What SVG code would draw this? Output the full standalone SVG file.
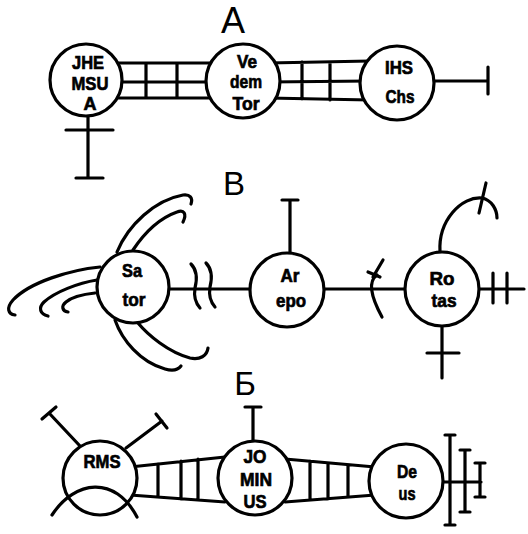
<svg xmlns="http://www.w3.org/2000/svg" width="528" height="534" viewBox="0 0 528 534">
<style>
.ln{fill:none;stroke:#000;stroke-width:3.2;stroke-linecap:round;stroke-linejoin:round}
.nd{fill:#fff;stroke:#000;stroke-width:3.2}
.t{font-family:"Liberation Sans",Arial,sans-serif;font-weight:bold;font-size:19px;text-anchor:middle;fill:#000;stroke:#000;stroke-width:0.7}
.h{font-family:"Liberation Sans",Arial,sans-serif;font-size:33px;text-anchor:middle;fill:#000}
</style>
<rect width="528" height="534" fill="#fff"/>
<g id="labels">
<text class="h" x="233" y="33" style="font-size:36px">А</text>
<text class="h" x="234" y="195">В</text>
<text class="h" x="245" y="395">Б</text>
</g>
<g id="connectors" class="ln">
<path d="M110 63H215M110 82H215M110 98H215M146 63V98M177 63V98"/>
<path d="M268 63L370 61M268 82L370 81M268 98L370 100M302 62V99M330 62V100"/>
<path d="M430 81H488M488 67V94"/>
<path d="M88 114V178M66 130H113M76 178H103"/>
<path d="M150 289H524"/>
<path d="M191 264Q199 272 195 288Q193 300 200 308"/>
<path d="M206 263Q214 271 210 287Q208 299 215 307"/>
<path d="M117 252C128 225 155 200 183 195C190 194 193 198 191 204"/>
<path d="M133 250C145 232 160 218 177 212C184 209 187 214 183 222"/>
<path d="M100 267C70 270 30 282 13 300C6 308 8 314 15 315"/>
<path d="M97 280C78 283 55 292 44 302C38 308 40 314 48 316"/>
<path d="M95 293C85 294 72 297 66 302C61 306 62 311 68 312"/>
<path d="M115 320C122 340 140 362 165 369C172 371 178 370 181 366"/>
<path d="M138 323C148 335 168 352 190 358C200 360 207 356 208 348"/>
<path d="M290 253V200M282 200H298"/>
<path d="M377 275Q364 284 382 317"/>
<path d="M383 260L373 277M368 272L380 277"/>
<path d="M493 273V303M507 273V303"/>
<path d="M442 325V378M427 353H459"/>
<path d="M440 252C438 220 462 196 482 198C492 200 497 210 497 218"/>
<path d="M486 183L479 213"/>
<path d="M130 467L225 457M130 495L225 502M158 464V497M181 461V499M198 459V500"/>
<path d="M285 459L375 467M285 502L375 495M310 461V500M328 463V499M348 465V497"/>
<path d="M253 442V407M245 407H261"/>
<path d="M80 446L49 413M42 419L56 407"/>
<path d="M126 448L162 421M156 414L167 428"/>
<path d="M441 482H481M450 435V525M445 435H455M445 525H455M465 450V512M460 450H470M460 512H470M480 463V497M475 463H485M475 497H485"/>
</g>
<g id="n-jhe"><circle class="nd" cx="86" cy="80" r="36"/>
<text class="t" x="88" y="69" textLength="32" lengthAdjust="spacingAndGlyphs">JHE</text>
<text class="t" x="90" y="90" textLength="37" lengthAdjust="spacingAndGlyphs">MSU</text>
<text class="t" x="90" y="110" textLength="13" lengthAdjust="spacingAndGlyphs">A</text></g>
<g id="n-vedem"><circle class="nd" cx="243" cy="81" r="37"/>
<text class="t" x="247" y="68" textLength="20" lengthAdjust="spacingAndGlyphs">Ve</text>
<text class="t" x="246" y="88" textLength="32" lengthAdjust="spacingAndGlyphs">dem</text>
<text class="t" x="246" y="110" textLength="27" lengthAdjust="spacingAndGlyphs">Tor</text></g>
<g id="n-ihs"><circle class="nd" cx="397" cy="83" r="37"/>
<text class="t" x="399" y="74" textLength="28" lengthAdjust="spacingAndGlyphs">IHS</text>
<text class="t" x="400" y="103" textLength="29" lengthAdjust="spacingAndGlyphs">Chs</text></g>
<g id="n-sator"><circle class="nd" cx="133" cy="287" r="36"/>
<text class="t" x="132" y="277" textLength="20" lengthAdjust="spacingAndGlyphs">Sa</text>
<text class="t" x="134" y="306" textLength="23" lengthAdjust="spacingAndGlyphs">tor</text></g>
<g id="n-arepo"><circle class="nd" cx="287" cy="290" r="37"/>
<text class="t" x="290" y="282" textLength="19" lengthAdjust="spacingAndGlyphs">Ar</text>
<text class="t" x="291" y="307" textLength="30" lengthAdjust="spacingAndGlyphs">epo</text></g>
<g id="n-rotas"><circle class="nd" cx="442" cy="289" r="37"/>
<text class="t" x="442" y="285" textLength="25" lengthAdjust="spacingAndGlyphs">Ro</text>
<text class="t" x="444" y="307" textLength="25" lengthAdjust="spacingAndGlyphs">tas</text></g>
<g id="n-rms"><circle class="nd" cx="100" cy="478" r="37"/>
<text class="t" x="102" y="468" textLength="37" lengthAdjust="spacingAndGlyphs">RMS</text>
<path class="ln" d="M52 515C75 480 115 475 137 517"/></g>
<g id="n-jominus"><circle class="nd" cx="255" cy="478" r="37"/>
<text class="t" x="255" y="463" textLength="23" lengthAdjust="spacingAndGlyphs">JO</text>
<text class="t" x="256" y="486" textLength="32" lengthAdjust="spacingAndGlyphs">MIN</text>
<text class="t" x="255" y="508" textLength="23" lengthAdjust="spacingAndGlyphs">US</text></g>
<g id="n-deus"><circle class="nd" cx="406" cy="481" r="37"/>
<text class="t" x="407" y="478" textLength="20" lengthAdjust="spacingAndGlyphs">De</text>
<text class="t" x="407" y="500" textLength="17" lengthAdjust="spacingAndGlyphs">us</text></g>
</svg>
